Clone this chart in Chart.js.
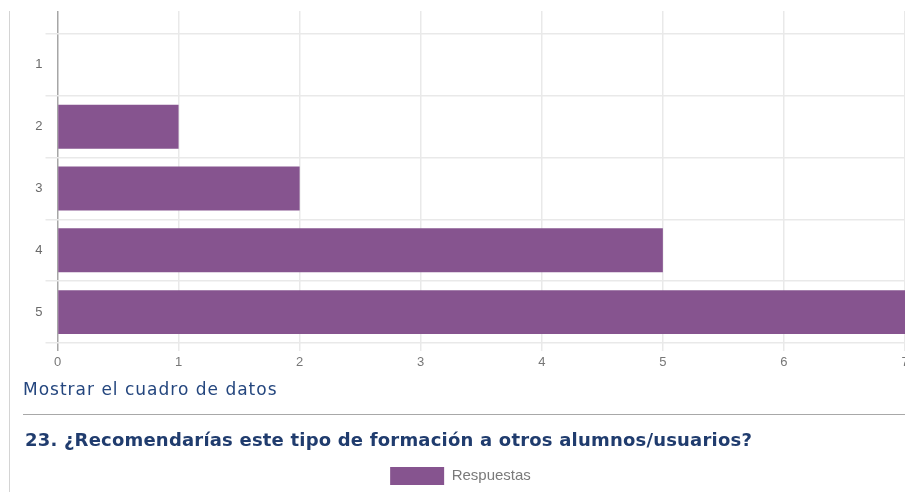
<!DOCTYPE html>
<html>
<head>
<meta charset="utf-8">
<script src="https://cdn.jsdelivr.net/npm/chart.js@4/dist/chart.umd.min.js"></script>
<style>
  html, body { margin: 0; padding: 0; background: #fff; overflow: hidden; }
  body { width: 905px; height: 492px; position: relative; }
  #page-border { position: absolute; left: 9px; top: 11px; width: 1px; height: 481px; background: #d4d4d4; }
  #chart { position: absolute; left: 0; top: 0; }
  #more { position: absolute; left: 23px; top: 379px; font: 17px "DejaVu Sans", Verdana, sans-serif; letter-spacing: 1px; color: #24467e; }
  #rule { position: absolute; left: 23px; top: 414px; width: 900px; height: 1px; background: #a8a8a8; }
  #title { position: absolute; left: 25px; top: 429px; font: bold 18px "DejaVu Sans", Verdana, sans-serif; letter-spacing: 0.2px; color: #203c6e; white-space: nowrap; }
</style>
</head>
<body>
<div id="page-border"></div>
<canvas id="chart" width="960" height="495"></canvas>
<div id="more">Mostrar el cuadro de datos</div>
<div id="rule"></div>
<div id="title">23. ¿Recomendarías este tipo de formación a otros alumnos/usuarios?</div>
<script>
// valores
const categories = ['1', '2', '3', '4', '5'];
const respuestas = [0, 1, 2, 5, 7];
const seriesName = 'Respuestas';
const xMin = 0;
const xMax = 7;

const barColor = '#86548f';
const gridColor = '#e9e9e9';
const zeroColor = '#a6a6a6';

function gridLineColor(ctx) {
    return ctx.tick && ctx.tick.value === 0 ? zeroColor : gridColor;
}

const ctx = document.getElementById('chart');
new Chart(ctx, {
    type: 'bar',
    data: {
        labels: categories,
        datasets: [{
            label: seriesName,
            data: respuestas,
            backgroundColor: barColor,
            borderWidth: 0,
            categoryPercentage: 1,
            barPercentage: 0.71,
        }]
    },
    options: {
        indexAxis: 'y',
        responsive: false,
        animation: false,
        layout: { padding: { top: 11, left: 16, right: 55, bottom: 0 } },
        plugins: {
            tooltip: { enabled: false },
            legend: {
                position: 'bottom',
                labels: {
                    boxWidth: 54,
                    boxHeight: 18,
                    color: '#7a7a7a',
                    font: { family: 'Arial, "Liberation Sans", sans-serif', size: 15 },
                    padding: 3,
                }
            }
        },
        scales: {
            x: {
                type: 'linear',
                position: 'bottom',
                min: xMin,
                max: xMax,
                border: { display: false },
                grid: { color: gridLineColor, lineWidth: 1.5, tickLength: 8 },
                ticks: {
                    stepSize: 1,
                    padding: 4,
                    color: '#777',
                    font: { family: 'Arial, "Liberation Sans", sans-serif', size: 13 },
                },
                afterFit: (axis) => { axis.height = 121; }
            },
            xTop: {
                type: 'linear',
                position: 'top',
                min: xMin,
                max: xMax,
                border: { display: false },
                grid: { color: gridLineColor, lineWidth: 1.5, tickLength: 23, drawOnChartArea: false },
                ticks: { stepSize: 1, display: false },
            },
            y: {
                border: { display: false },
                grid: { color: gridColor, lineWidth: 1.5, tickLength: 12 },
                ticks: {
                    padding: 3,
                    color: '#6a6a6a',
                    font: { family: 'Arial, "Liberation Sans", sans-serif', size: 13 },
                },
                afterFit: (axis) => { axis.width = 41.5; }
            }
        }
    }
});
</script>
</body>
</html>
